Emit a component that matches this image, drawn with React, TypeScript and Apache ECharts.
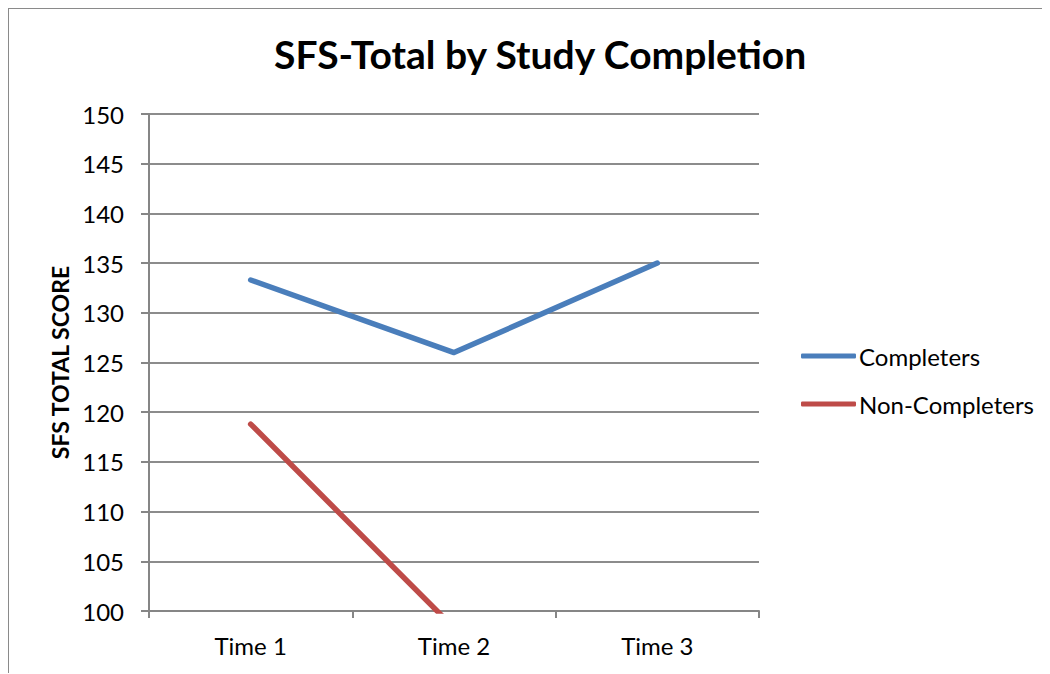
import React, { useEffect, useRef } from "react";
import * as echarts from "echarts";

const categories = ["Time 1", "Time 2", "Time 3"];
const completers = [133.3, 126.0, 135.0];
const nonCompleters = [118.8, 98.3, null];
const yTicks = { min: 100, max: 150, interval: 5 };

export default function App() {
  const ref = useRef<HTMLDivElement>(null);
  useEffect(() => {
    if (!ref.current) return;
    const chart = echarts.init(ref.current, null, { renderer: "svg" });
    const font = "Lato, 'Open Sans', sans-serif";
    chart.setOption({
      animation: false,
      backgroundColor: "#ffffff",
      title: {
        text: "SFS-Total by Study Completion",
        left: 260,
        top: 20,
        textStyle: { fontFamily: font, fontSize: 39, fontWeight: "bold", color: "#000" },
      },
      legend: {
        orient: "vertical",
        left: 787,
        top: 330,
        icon: "roundRect",
        itemWidth: 55,
        itemHeight: 5,
        itemGap: 24,
        textStyle: { fontFamily: font, fontSize: 24, color: "#000", padding: [0, 0, 0, -2] },
        data: ["Completers", "Non-Completers"],
      },
      grid: { left: 140, right: 290, top: 105, bottom: 62 },
      xAxis: {
        type: "category",
        data: categories,
        boundaryGap: true,
        axisLine: { lineStyle: { color: "#868686", width: 2 } },
        axisTick: { show: true, length: 7, lineStyle: { color: "#868686", width: 2 } },
        axisLabel: { fontFamily: font, fontSize: 24, color: "#000", margin: 22 },
      },
      yAxis: {
        type: "value",
        min: yTicks.min,
        max: yTicks.max,
        interval: yTicks.interval,
        name: "SFS TOTAL SCORE",
        nameLocation: "middle",
        nameGap: 78,
        nameTextStyle: { fontFamily: font, fontSize: 23, fontWeight: "bold", color: "#000" },
        axisLine: { show: true, lineStyle: { color: "#868686", width: 2 } },
        axisTick: { show: true, length: 8, lineStyle: { color: "#868686", width: 2 } },
        axisLabel: { fontFamily: font, fontSize: 24, color: "#000", margin: 25 },
        splitLine: { lineStyle: { color: "#8c8c8c", width: 2 } },
      },
      series: [
        {
          name: "Completers",
          type: "line",
          data: completers,
          symbol: "none",
          clip: true,
          lineStyle: { color: "#4a7ebb", width: 5.5, cap: "round", join: "round" },
          itemStyle: { color: "#4a7ebb" },
        },
        {
          name: "Non-Completers",
          type: "line",
          data: nonCompleters,
          symbol: "none",
          clip: true,
          lineStyle: { color: "#be4b48", width: 5.5, cap: "round", join: "round" },
          itemStyle: { color: "#be4b48" },
        },
      ],
    });
    return () => chart.dispose();
  }, []);
  return (
    <div
      style={{
        width: 1042,
        height: 666,
        borderTop: "2px solid #8a8a8a",
        borderLeft: "2px solid #8a8a8a",
        boxSizing: "border-box",
        marginTop: -1,
        marginLeft: -1,
        overflow: "hidden",
      }}
    >
      <div ref={ref} style={{ width: 1040, height: 664 }} />
    </div>
  );
}
